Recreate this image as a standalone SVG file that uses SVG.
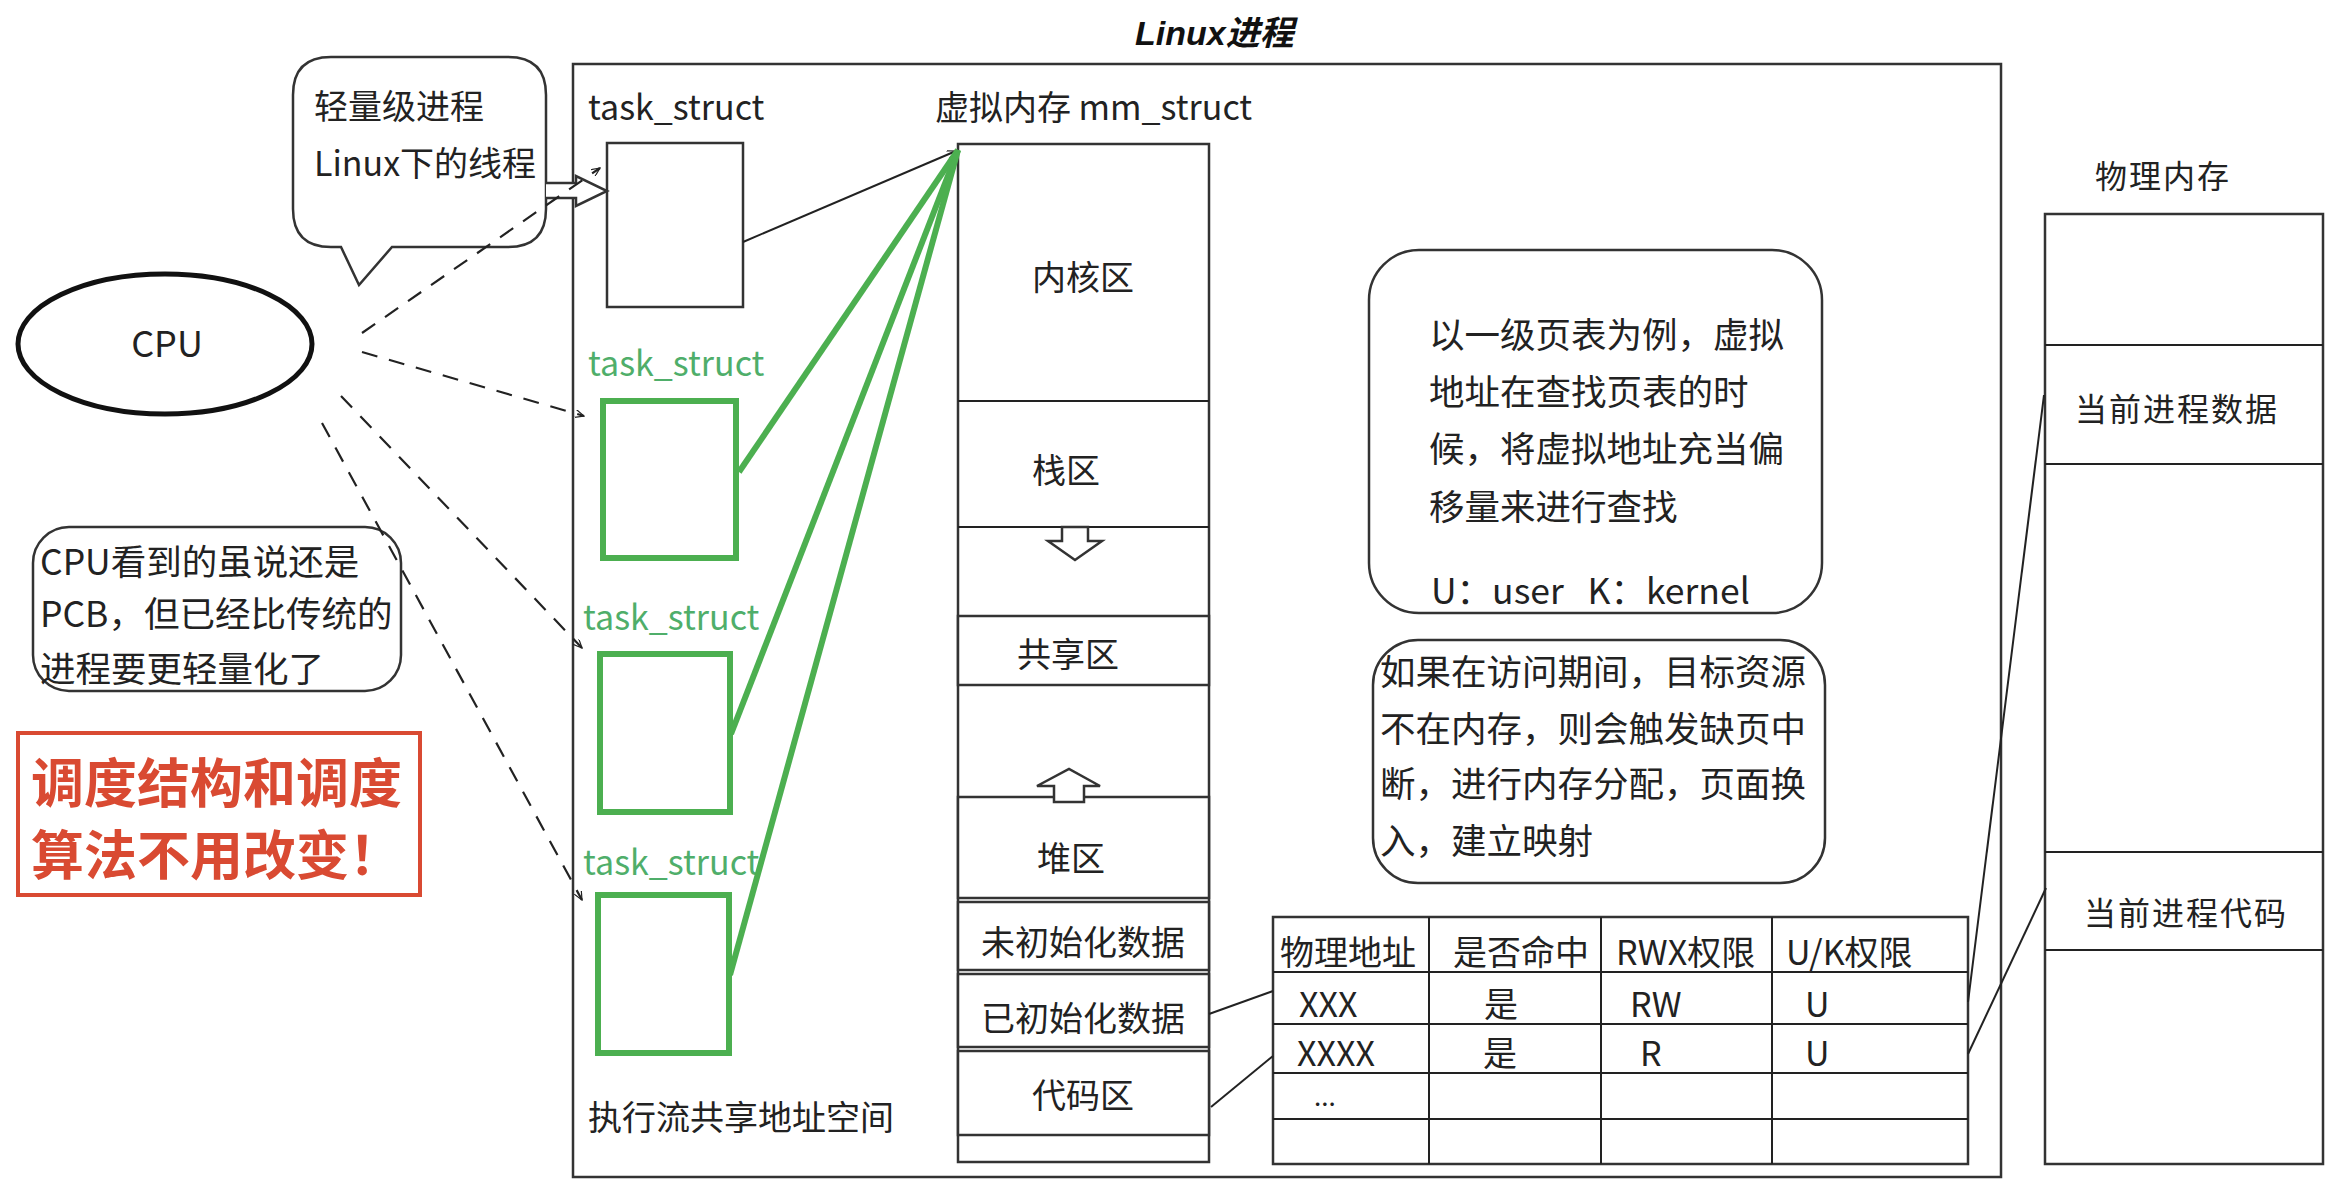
<svg xmlns="http://www.w3.org/2000/svg" width="2346" height="1200" viewBox="0 0 2346 1200">
<defs>
<style>
text{font-family:"Noto Sans CJK SC","Liberation Sans",sans-serif;fill:#222;font-size:34px}
.box{fill:#fff;stroke:#333;stroke-width:2.5}
.ln{fill:none;stroke:#222;stroke-width:2}
.dash{fill:none;stroke:#222;stroke-width:2.2;stroke-dasharray:16 12}
.green{fill:none;stroke:#4caf50;stroke-width:6}
.gtext{fill:#4fae6a}
.mid{text-anchor:middle}
.red{fill:#d94a32;font-size:53px;font-weight:700}
.pm{font-size:32px;letter-spacing:2px}
.big{font-size:35.5px}
</style>
<marker id="tip" viewBox="0 0 12 10" refX="11" refY="5" markerWidth="10" markerHeight="8" markerUnits="userSpaceOnUse" orient="auto">
<path d="M0,0 L11,5 L0,10" fill="none" stroke="#222" stroke-width="1.5"/>
</marker>
</defs>
<rect width="2346" height="1200" fill="#fff"/>

<text x="1135" y="45" style="font-family:'Liberation Sans','Noto Sans CJK SC',sans-serif;font-style:italic;font-weight:700;font-size:34px;fill:#111">Linux进程</text>

<g id="process">
<rect class="box" x="573" y="64" width="1428" height="1113"/>
<text x="588" y="120">task_struct</text>
<text x="935" y="120">虚拟内存 mm_struct</text>
<text x="588" y="1130">执行流共享地址空间</text>
</g>

<g id="callout-thread">
<path class="box" d="M331,57 H508 Q546,57 546,95 V209 Q546,247 508,247 H392 L359,285 L341,247 H331 Q293,247 293,209 V95 Q293,57 331,57 Z"/>
<text x="314" y="119">轻量级进程</text>
<text x="314" y="176">Linux下的线程</text>
</g>

<g id="cpu">
<ellipse cx="165" cy="344" rx="147" ry="70" fill="#fff" stroke="#111" stroke-width="5"/>
<text class="mid" x="167" y="357" style="font-size:36px">CPU</text>
</g>

<g id="callout-pcb">
<rect class="box" x="33" y="527" width="368" height="164" rx="36"/>
<text x="40" y="575" style="font-size:35.5px">CPU看到的虽说还是</text>
<text x="40" y="627" style="font-size:35.5px">PCB，但已经比传统的</text>
<text x="40" y="682" style="font-size:35.5px">进程要更轻量化了</text>
</g>

<g id="note-red">
<rect x="18" y="733" width="402" height="162" fill="#fff" stroke="#d94a32" stroke-width="4"/>
<text class="red" x="31" y="803">调度结构和调度</text>
<text class="red" x="31" y="875">算法不用改变！</text>
</g>

<g id="task-main">
<rect class="box" x="607" y="143" width="136" height="164"/>
</g>

<g id="task-1">
<text class="gtext" x="588" y="376">task_struct</text>
<rect class="green" x="603" y="401" width="133" height="157"/>
</g>
<g id="task-2">
<text class="gtext" x="583" y="630">task_struct</text>
<rect class="green" x="600" y="654" width="130" height="158"/>
</g>
<g id="task-3">
<text class="gtext" x="583" y="875">task_struct</text>
<rect class="green" x="598" y="895" width="131" height="158"/>
</g>

<g id="mm-struct">
<rect class="box" x="958" y="144" width="251" height="1018"/>
<line class="ln" x1="958" y1="401" x2="1209" y2="401"/>
<line class="ln" x1="958" y1="527" x2="1209" y2="527"/>
<rect class="box" x="958" y="616" width="251" height="69"/>
<rect class="box" x="958" y="797" width="251" height="101"/>
<rect class="box" x="958" y="902" width="251" height="68"/>
<rect class="box" x="958" y="974" width="251" height="73"/>
<rect class="box" x="958" y="1051" width="251" height="84"/>
<path class="box" stroke-width="2" d="M1062,527 H1088 V541 H1102 L1075,560 L1048,541 H1062 Z"/>
<path class="box" stroke-width="2" d="M1054,802 V786 H1037 L1069,769 L1100,786 H1084 V802 Z"/>
<text class="mid" x="1083" y="290">内核区</text>
<text class="mid" x="1066" y="483">栈区</text>
<text class="mid" x="1068" y="667">共享区</text>
<text class="mid" x="1071" y="871">堆区</text>
<text class="mid" x="1083" y="955">未初始化数据</text>
<text class="mid" x="1083" y="1031">已初始化数据</text>
<text class="mid" x="1083" y="1108">代码区</text>
</g>

<g id="note-pagetable">
<rect class="box" x="1369" y="250" width="453" height="363" rx="50"/>
<text class="big" x="1429" y="348">以一级页表为例，虚拟</text>
<text class="big" x="1429" y="405">地址在查找页表的时</text>
<text class="big" x="1429" y="462">候，将虚拟地址充当偏</text>
<text class="big" x="1429" y="520">移量来进行查找</text>
<text class="big" x="1431" y="604">U：user&#160;&#160;&#160;K：kernel</text>
</g>

<g id="note-pagefault">
<rect class="box" x="1373" y="640" width="452" height="243" rx="45"/>
<text class="big" x="1380" y="685">如果在访问期间，目标资源</text>
<text class="big" x="1380" y="742">不在内存，则会触发缺页中</text>
<text class="big" x="1380" y="797">断，进行内存分配，页面换</text>
<text class="big" x="1380" y="854">入，建立映射</text>
</g>

<g id="page-table">
<rect class="box" x="1273" y="917" width="695" height="247"/>
<line class="ln" x1="1273" y1="972" x2="1968" y2="972"/>
<line class="ln" x1="1273" y1="1024" x2="1968" y2="1024"/>
<line class="ln" x1="1273" y1="1073" x2="1968" y2="1073"/>
<line class="ln" x1="1273" y1="1119" x2="1968" y2="1119"/>
<line class="ln" x1="1429" y1="917" x2="1429" y2="1164"/>
<line class="ln" x1="1601" y1="917" x2="1601" y2="1164"/>
<line class="ln" x1="1772" y1="917" x2="1772" y2="1164"/>
<text x="1280" y="965">物理地址</text>
<text x="1453" y="965">是否命中</text>
<text x="1616" y="965">RWX权限</text>
<text x="1786" y="965">U/K权限</text>
<text x="1299" y="1017">XXX</text>
<text x="1484" y="1017">是</text>
<text x="1630" y="1017">RW</text>
<text x="1805" y="1017">U</text>
<text x="1297" y="1066">XXXX</text>
<text x="1483" y="1066">是</text>
<text x="1640" y="1066">R</text>
<text x="1805" y="1066">U</text>
<text x="1314" y="1106" style="font-size:26px">...</text>
</g>

<g id="physical-memory">
<text class="pm mid" x="2163" y="188">物理内存</text>
<rect class="box" x="2045" y="214" width="278" height="950"/>
<line class="ln" x1="2045" y1="345" x2="2323" y2="345"/>
<line class="ln" x1="2045" y1="464" x2="2323" y2="464"/>
<line class="ln" x1="2045" y1="852" x2="2323" y2="852"/>
<line class="ln" x1="2045" y1="950" x2="2323" y2="950"/>
<text class="pm mid" x="2177" y="421">当前进程数据</text>
<text class="pm mid" x="2186" y="925">当前进程代码</text>
</g>

<g id="connectors">
<path class="box" stroke-width="2" d="M546,183 H576 V176 L607,191 L576,206 V198 H546"/>
<line class="dash" x1="362" y1="333" x2="600" y2="168" marker-end="url(#tip)"/>
<line class="dash" x1="362" y1="352" x2="584" y2="416" marker-end="url(#tip)"/>
<line class="dash" x1="341" y1="396" x2="582" y2="648" marker-end="url(#tip)"/>
<line class="dash" x1="322" y1="423" x2="582" y2="900" marker-end="url(#tip)"/>
<line class="ln" x1="743" y1="242" x2="956" y2="151" marker-end="url(#tip)"/>
<line class="green" x1="958" y1="150" x2="739" y2="472"/>
<line class="green" x1="958" y1="150" x2="731" y2="734"/>
<line class="green" x1="958" y1="150" x2="730" y2="975"/>
<line class="ln" x1="1209" y1="1014" x2="1273" y2="991"/>
<line class="ln" x1="1211" y1="1107" x2="1273" y2="1056"/>
<line class="ln" x1="1968" y1="1002" x2="2044" y2="395" stroke-width="2.5"/>
<line class="ln" x1="1968" y1="1054" x2="2046" y2="888"/>
</g>
</svg>
